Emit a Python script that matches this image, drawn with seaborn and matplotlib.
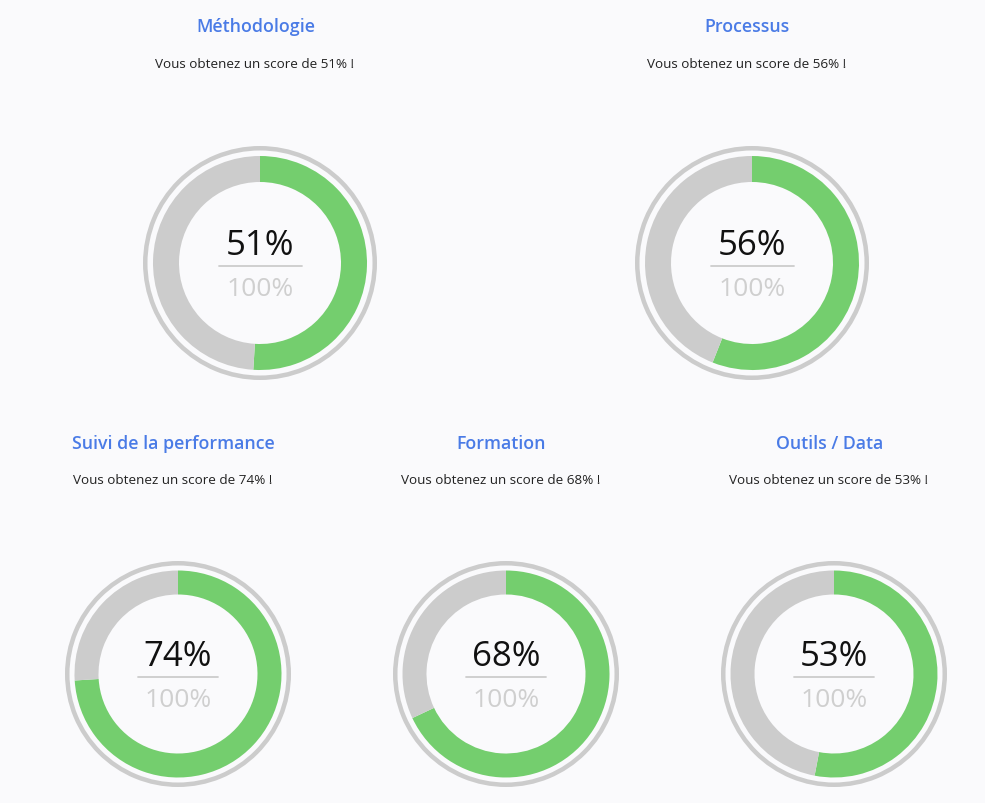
import matplotlib
matplotlib.use("Agg")
import matplotlib.pyplot as plt
import seaborn as sns
from matplotlib.lines import Line2D

sns.set_theme(style="white")
plt.rcParams['font.family'] = ['Open Sans', 'DejaVu Sans']

categories = ["Méthodologie", "Processus", "Suivi de la performance", "Formation", "Outils / Data"]
scores = [51, 56, 74, 68, 53]
total_label = "100%"

# layout (pixel centres of each gauge) and per-row sizes
centers = [(260, 264), (752, 264), (178, 675), (506, 675), (834, 675)]
ring_r = [117, 117, 113, 113, 113]
donut_r = [107, 107, 103.5, 103.5, 103.5]
donut_w = [26, 26, 24, 24, 24]
line_half = [41.5, 41.5, 40, 40, 40]
title_y = [24, 24, 441, 441, 441]
sub_y = [62, 62, 479, 479, 479]

W, H = 985, 804
BG = "#fafafc"
GREEN = "#74ce6e"
GREY = "#cccccc"
BLUE = "#4a7be6"

fig = plt.figure(figsize=(W / 100, H / 100), dpi=100, facecolor=BG)
ax = fig.add_axes([0, 0, 1, 1])
ax.set_facecolor(BG)

for i, (cat, sc, (cx, cy)) in enumerate(zip(categories, scores, centers)):
    y = H - cy
    ax.pie([1], colors=[GREY], radius=ring_r[i], center=(cx, y), startangle=90,
           wedgeprops=dict(width=4.5, linewidth=0))
    ax.pie([sc, 100 - sc], colors=[GREEN, GREY], radius=donut_r[i], center=(cx, y),
           startangle=90, counterclock=False,
           wedgeprops=dict(width=donut_w[i], linewidth=0))
    ax.text(cx, H - (cy - 18), f"{sc}%", ha="center", va="center", fontsize=25, color="#111111")
    ax.add_line(Line2D([cx - line_half[i], cx + line_half[i]], [H - (cy + 2.5)] * 2,
                       color="#cccccc", lw=1.3))
    ax.text(cx, H - (cy + 25.5), total_label, ha="center", va="center", fontsize=19, color="#cfcfcf")
    ax.text(cx - 4.5, H - (title_y[i] + 3), cat, ha="center", va="center", fontsize=12.8,
            fontweight="semibold", color=BLUE)
    ax.text(cx - 5, H - (sub_y[i] + 2), f"Vous obtenez un score de {sc}% !", ha="center",
            va="center", fontsize=9.7, color="#222222")

ax.set_xlim(0, W)
ax.set_ylim(0, H)
ax.set_aspect("equal")
ax.axis("off")
fig.savefig("out.png", dpi=100, facecolor=BG)
